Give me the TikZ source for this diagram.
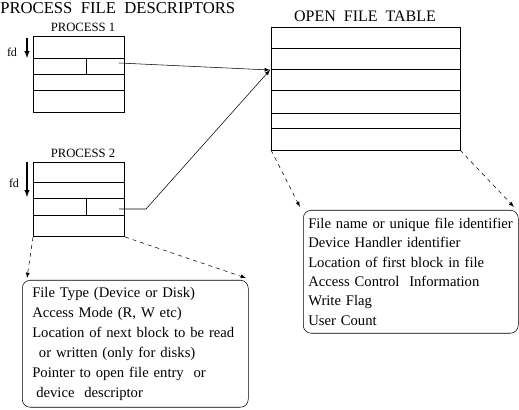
\documentclass[tikz,border=0pt]{standalone}
\usepackage{fontspec}
\setmainfont{Liberation Serif}
\usetikzlibrary{arrows}

\tikzset{
	infobox/.style = {draw, rounded corners = 6pt, anchor = north west, align = left},
	dashline/.style = {dash pattern = on 3pt off 3pt}
}

\begin{document}
\begin{tikzpicture}[x = .75pt, y = -.75pt, >=latex]
	\useasboundingbox (0,0) rectangle (519,410);
	% headings
	\node[anchor = west, inner sep = 0, font = \fontsize{12.5}{14}\selectfont] (head1) at (0,8) {PROCESS\ \ FILE\ \ DESCRIPTORS};
	\node[inner sep = 0, font = \fontsize{12}{14}\selectfont] (head2) at (365,16) {OPEN\ \ FILE\ \ TABLE};
	\node[inner sep = 0, font = \fontsize{9.5}{11}\selectfont] (name1) at (83,27) {PROCESS\ 1};
	\node[inner sep = 0, font = \fontsize{9.5}{11}\selectfont] (name2) at (83,153) {PROCESS\ 2};
	% process 1
	\draw (33,36) rectangle (124,112);
	\draw (33,58) -- (124,58);
	\draw (33,74) -- (124,74);
	\draw (33,90) -- (124,90);
	\draw (86,58) -- (86,74);
	\node[inner sep = 0, font = \small] (fd1) at (12,52) {fd};
	\draw[->, thick] (27,38) -- (27,58);
	% process 2
	\draw (33,162) rectangle (124,236);
	\draw (33,182) -- (124,182);
	\draw (33,198) -- (124,198);
	\draw (33,215) -- (124,215);
	\draw (86,198) -- (86,215);
	\node[inner sep = 0, font = \small] (fd2) at (14,183) {fd};
	\draw[->, thick] (27,162) -- (27,197);
	% open file table
	\draw (271,27) rectangle (460,150);
	\draw (271,48) -- (460,48);
	\draw (271,69) -- (460,69);
	\draw (271,90) -- (460,90);
	\draw (271,113) -- (460,113);
	\draw (271,128) -- (460,128);
	% pointers
	\coordinate (slot1) at (119,63);
	\coordinate (slot2) at (119,209);
	\coordinate (bend2) at (146,209);
	\coordinate (entry) at (270,70);
	\draw[->] (slot1) -- (entry);
	\draw[->] (slot2) -- (bend2) -- (entry);
	% descriptor contents
	\node[infobox, text width = 154.5pt, minimum height = 95.25pt, inner xsep = 7.5pt,
		font = \fontsize{11}{15}\selectfont] (info2) at (22,280)
		{File Type (Device or Disk)\\
		 Access Mode (R, W etc)\\
		 Location of next block to be read\\
		 \hspace*{5pt}or written (only for disks)\\
		 Pointer to open file entry\ \ or\\
		 \hspace*{3pt}device\ \ descriptor};
	% table contents
	\node[infobox, text width = 153.75pt, minimum height = 92.25pt, inner xsep = 3.75pt,
		font = \fontsize{11}{14.5}\selectfont] (info1) at (303,210)
		{\mbox{File name or unique file identifier}\\
		 Device Handler identifier\\
		 Location of first block in file\\
		 Access Control\ \ Information\\
		 Write Flag\\
		 User Count};
	% dashed leaders
	\coordinate (p2bl) at (33,237);
	\coordinate (p2br) at (125,237);
	\coordinate (tbl) at (271,150);
	\coordinate (tbr) at (460,150);
	\draw[->, dashline] (p2bl) -- (27,278);
	\draw[->, dashline] (p2br) -- (246,278);
	\draw[->, dashline] (tbl) -- (300,207);
	\draw[->, dashline] (tbr) -- (514,207);
\end{tikzpicture}
\end{document}
